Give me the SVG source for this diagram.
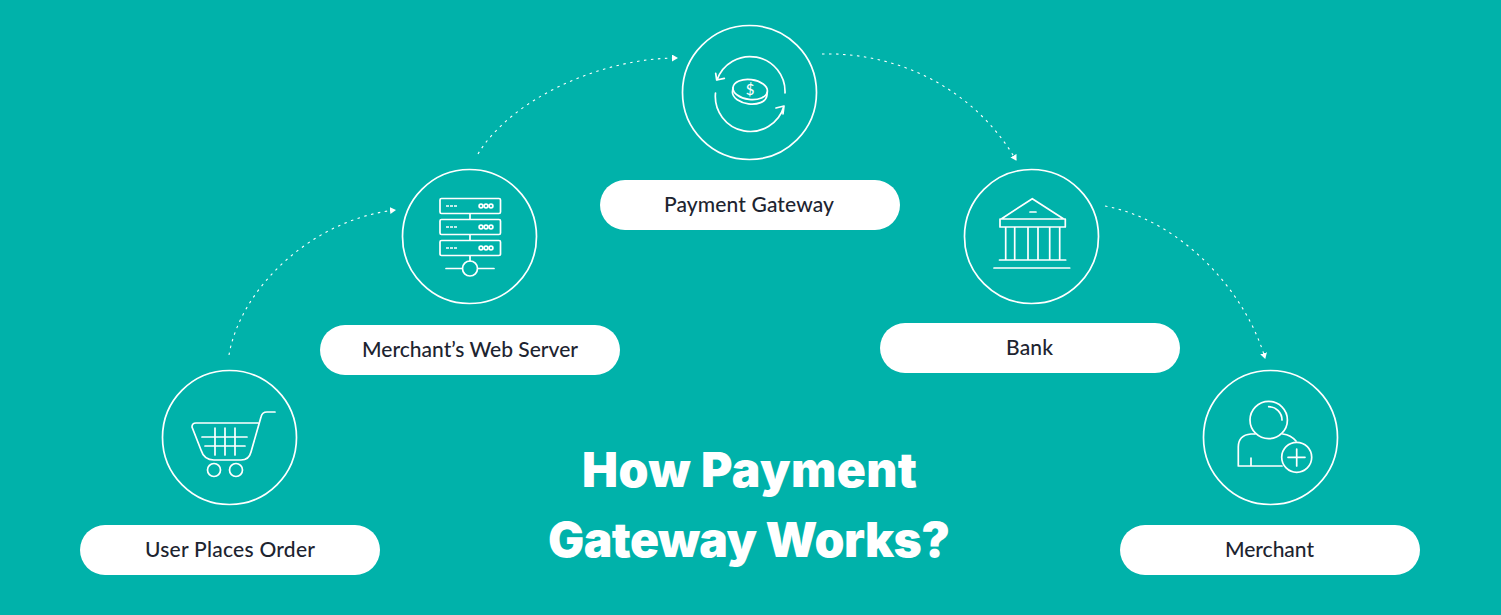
<svg xmlns="http://www.w3.org/2000/svg" width="1501" height="615" viewBox="0 0 1501 615">
<style>
.ring{fill:none;stroke:#fff;stroke-width:1.7}
.ic{fill:none;stroke:#fff;stroke-width:1.7;stroke-linecap:round;stroke-linejoin:round}
.pill{fill:#fff}
.lbl{font-family:"Lato","Liberation Sans",sans-serif;font-size:21px;font-weight:500;fill:#1d2430;text-anchor:middle}
.ttl{font-family:"Inter","Liberation Sans",sans-serif;font-size:48px;font-weight:900;fill:#fff;text-anchor:middle}
.cn{fill:none;stroke:#fff;stroke-width:1.1;stroke-dasharray:2.5 4.5}
</style>
<defs><marker id="a" markerWidth="8" markerHeight="8" refX="5" refY="3.500" orient="auto" markerUnits="userSpaceOnUse"><path d="M0 0L6 3.500L0 7z" fill="#fff"/></marker></defs>
<rect width="1501" height="615" fill="#00b2aa"/>
<g id="connectors">
<path class="cn" marker-end="url(#a)" d="M229 355C240 290 310 220 395 210"/>
<path class="cn" marker-end="url(#a)" d="M478 154C510 100 600 58 677 58"/>
<path class="cn" marker-end="url(#a)" d="M822 54C900 52 975 90 1016 160"/>
<path class="cn" marker-end="url(#a)" d="M1105 206C1180 220 1245 290 1265 358"/>
</g>
<g id="node-user">
<circle class="ring" cx="229.500" cy="437.500" r="67"/>
<path class="ic" d="M275 412H267Q262 412 261 417L251 452Q249 460 241 460H214Q204 460 201 450L192 427Q192 423 196 423H258M202 437H247M205 446H245M215 428V455M225 428V455M235 428V455"/>
<circle class="ic" cx="214" cy="470" r="6.500"/><circle class="ic" cx="236" cy="470" r="6.500"/>
<rect class="pill" x="80" y="525" width="300" height="50" rx="25"/>
<text class="lbl" x="230" y="557" textLength="170">User Places Order</text>
</g>
<g id="node-server">
<circle class="ring" cx="469.500" cy="236.500" r="67"/>
<rect class="ic" x="440" y="198.500" width="60.500" height="15" rx="1.500"/>
<rect class="ic" x="440" y="219.500" width="60.500" height="15" rx="1.500"/>
<rect class="ic" x="440" y="240.500" width="60.500" height="15" rx="1.500"/>
<path class="ic" d="M470 214V219M470 235V240M470 256V261M446 268.500H462M478 268.500H494"/>
<path d="M446 206H457M446 227H457M446 248H457" fill="none" stroke="#fff" stroke-width="1.700" stroke-dasharray="3 1"/>
<g class="ic"><circle cx="481" cy="206" r="1.900"/><circle cx="486" cy="206" r="1.900"/><circle cx="491" cy="206" r="1.900"/><circle cx="481" cy="227" r="1.900"/><circle cx="486" cy="227" r="1.900"/><circle cx="491" cy="227" r="1.900"/><circle cx="481" cy="248" r="1.900"/><circle cx="486" cy="248" r="1.900"/><circle cx="491" cy="248" r="1.900"/></g>
<circle class="ic" cx="470" cy="268.500" r="7.500"/>
<rect class="pill" x="320" y="325" width="300" height="50" rx="25"/>
<text class="lbl" x="470" y="357" textLength="216">Merchant’s Web Server</text>
</g>
<g id="node-gateway">
<circle class="ring" cx="749.500" cy="92.500" r="67"/>
<path class="ic" d="M785 93A35 35 0 0 0 717 80M715.700 73.300L716.700 80L724.300 78.300M715.500 93A35 35 0 0 0 784 106M776 108L784 106L783 114"/>
<g transform="rotate(7 750 91)">
<ellipse class="ic" cx="750" cy="89.500" rx="17.300" ry="10"/>
<path class="ic" d="M732.700 90V94C733 100 742 104 750 104C759 104 767 100 767.300 94V90"/>
</g>
<text x="750" y="95" font-family="Lato,'Liberation Sans',sans-serif" font-size="15" font-weight="500" fill="#fff" text-anchor="middle">$</text>
<rect class="pill" x="600" y="180" width="300" height="50" rx="25"/>
<text class="lbl" x="749" y="212" textLength="170">Payment Gateway</text>
</g>
<g id="node-bank">
<circle class="ring" cx="1031.500" cy="236.500" r="67"/>
<path class="ic" d="M1002 218.500L1032.300 198.700L1063 218.500M1000 219H1065.300V227H1000ZM1030 212H1036M1005.700 227V260M1014.700 227V260M1028 227V260M1038 227V260M1049.700 227V260M1059.700 227V260M999.500 260H1065.700M994 268H1069.700"/>
<rect class="pill" x="880" y="323" width="300" height="50" rx="25"/>
<text class="lbl" x="1029.500" y="355" textLength="47">Bank</text>
</g>
<g id="node-merchant">
<circle class="ring" cx="1270.500" cy="437.500" r="67"/>
<circle class="ic" cx="1268.700" cy="420" r="18.700"/>
<path class="ic" d="M1268.700 406.700A13.300 13.300 0 0 1 1282 420M1255 434H1251Q1238.300 435 1238.300 447V466H1282M1282.700 434Q1291 435 1296 441M1251 458V466"/>
<circle class="ic" cx="1296.700" cy="457.300" r="15"/>
<path class="ic" d="M1296.700 449V466M1288 457.300H1305"/>
<rect class="pill" x="1120" y="525" width="300" height="50" rx="25"/>
<text class="lbl" x="1269.500" y="557" textLength="89">Merchant</text>
</g>
<g id="title">
<text class="ttl" x="749.500" y="487" textLength="335">How Payment</text>
<text class="ttl" x="749" y="557" textLength="402">Gateway Works?</text>
</g>
</svg>
